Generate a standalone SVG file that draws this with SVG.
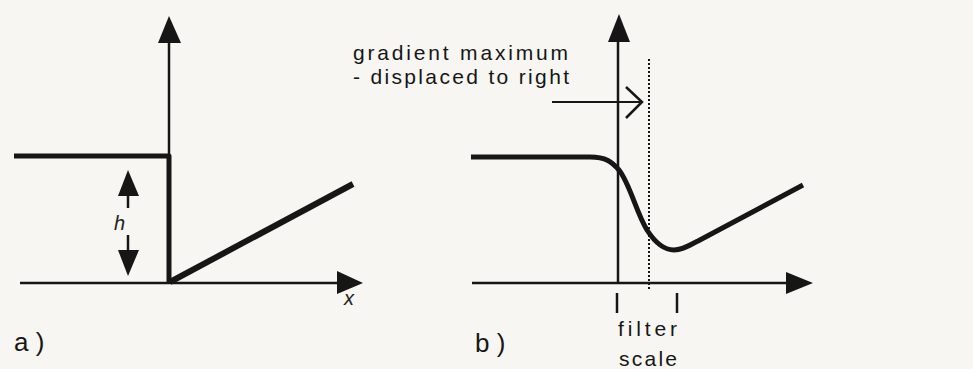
<svg xmlns="http://www.w3.org/2000/svg" width="973" height="369" viewBox="0 0 973 369">
<style>
.bg{fill:#f7f6f2}
.thin{stroke:#161616;stroke-width:2.5;fill:none}
.thick{stroke:#161616;stroke-width:5;fill:none;stroke-linejoin:round}
.head{fill:#161616}
.dot{stroke:#161616;stroke-width:2;stroke-dasharray:2 2;fill:none}
.lbl{font-family:"Liberation Sans",Arial,sans-serif;fill:#161616}
.it{font-family:"Liberation Sans",Arial,sans-serif;font-style:italic;fill:#222;font-size:20px}
</style>
<rect class="bg" x="0" y="0" width="973" height="369"/>
<g id="panel-a">
  <line class="thin" x1="169" y1="40" x2="169" y2="156"/>
  <polygon class="head" points="169,16 158,43 181,43"/>
  <line class="thin" x1="20" y1="283" x2="340" y2="283"/>
  <polygon class="head" points="337,271 363,283 337,294"/>
  <polyline class="thick" points="14,156 169,156 169,283"/>
  <line class="thick" x1="170" y1="282" x2="353" y2="184" style="stroke-width:6"/>
  <g id="h-arrow">
    <polygon class="head" points="128,170 118,196 139,196"/>
    <line class="thin" x1="128" y1="195" x2="128" y2="208"/>
    <line class="thin" x1="128" y1="235" x2="128" y2="251"/>
    <polygon class="head" points="118,250 139,250 128,276"/>
    <text class="it" x="114" y="230">h</text>
  </g>
  <text class="it" x="344" y="305">x</text>
  <text class="lbl" x="14" y="351" font-size="26">a )</text>
</g>
<g id="panel-b">
  <line class="thin" x1="618" y1="40" x2="618" y2="283"/>
  <polygon class="head" points="619,14 608,42 630,42"/>
  <line class="thin" x1="472" y1="283" x2="790" y2="283"/>
  <polygon class="head" points="786,272 813,283 786,294"/>
  <line class="dot" x1="649" y1="59" x2="649" y2="290"/>
  <path class="thick" d="M471,157 L590,157 C606,157 612,162 619,170 C630,184 636,212 647,230 C656,244 664,250 674,250 C682,250 688,246 698,241 L803,185"/>
  <line class="thin" x1="552" y1="102" x2="640" y2="102" style="stroke-width:2"/>
  <polyline class="thin" points="626,87 642,102 626,118"/>
  <line class="thin" x1="617" y1="293" x2="617" y2="313"/>
  <line class="thin" x1="677" y1="293" x2="677" y2="313"/>
  <text class="lbl" x="353" y="60" font-size="21" textLength="215" lengthAdjust="spacing">gradient maximum</text>
  <text class="lbl" x="353" y="84" font-size="21" textLength="216" lengthAdjust="spacing">- displaced to right</text>
  <text class="lbl" x="618" y="336" font-size="21" textLength="59" lengthAdjust="spacing">filter</text>
  <text class="lbl" x="619" y="366" font-size="21" textLength="58" lengthAdjust="spacing">scale</text>
  <text class="lbl" x="475" y="352" font-size="26">b )</text>
</g>
</svg>
